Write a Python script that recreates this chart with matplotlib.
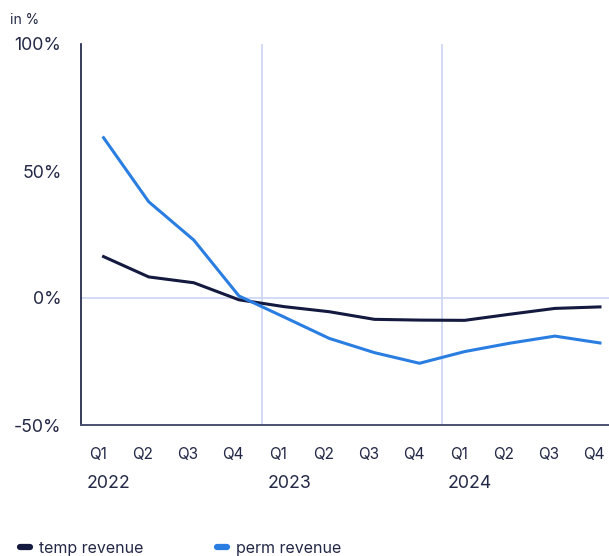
import matplotlib
matplotlib.use("Agg")
import matplotlib.pyplot as plt
from matplotlib.lines import Line2D
from matplotlib.transforms import blended_transform_factory, ScaledTranslation

plt.rcParams['font.family'] = ['Inter', 'DejaVu Sans']

# Quarterly year-over-year revenue change, in %
quarters = ["Q1", "Q2", "Q3", "Q4"] * 3
years = ["2022", "2023", "2024"]
temp_revenue = [16.3, 8.3, 6.0, -0.7, -3.4, -5.4, -8.4, -8.7, -8.8, -6.4, -4.1, -3.5]
perm_revenue = [63.1, 37.9, 22.8, 0.8, -7.5, -15.9, -21.5, -25.7, -21.1, -17.8, -15.0, -17.7]
y_ticks = [-50, 0, 50, 100]
y_tick_labels = ["-50%", "0%", "50%", "100%"]

NAVY = "#141a3f"
BLUE = "#2a7de1"
GRID = "#ccd4f2"
TEXT = "#232846"

fig = plt.figure(figsize=(6.09, 5.56), dpi=100)
ax = fig.add_axes([81 / 609, 1 - 425 / 556, 1 - 81 / 609, (425 - 44) / 556])

x = list(range(len(quarters)))
ax.plot(x, temp_revenue, color=NAVY, lw=2.2, solid_joinstyle="round", zorder=3)
ax.plot(x, perm_revenue, color=BLUE, lw=2.2, solid_joinstyle="round", zorder=3)

ax.set_xlim(-0.5, 11.2)
ax.set_ylim(-50, 100)

# reference lines: zero and year separators
ax.axhline(0, color=GRID, lw=1.2, zorder=1)
for xs in (3.5, 7.5):
    ax.axvline(xs, color=GRID, lw=1.2, zorder=1)

for side in ("top", "right"):
    ax.spines[side].set_visible(False)
ax.spines["left"].set_color(NAVY)
ax.spines["left"].set_linewidth(1.2)
ax.spines["bottom"].set_color("#4a5070")
ax.spines["bottom"].set_linewidth(1.4)

ax.set_yticks(y_ticks)
ax.set_yticklabels(y_tick_labels)
ax.set_xticks(x)
ax.set_xticklabels(quarters)
ax.tick_params(axis="y", length=0, pad=14, labelsize=12.8, labelcolor=TEXT)
ax.tick_params(axis="x", length=0, pad=16, labelsize=11, labelcolor=TEXT)

# quarter labels sit slightly left of their data points
shift = ScaledTranslation(-6 / 100, 0, fig.dpi_scale_trans)
for lbl in ax.get_xticklabels():
    lbl.set_transform(lbl.get_transform() + shift)

trans = blended_transform_factory(ax.transData, ax.transAxes)
for i, yr in enumerate(years):
    ax.text(i * 4 - 0.37, -0.153, yr, transform=trans, ha="left", va="center",
            fontsize=12.8, color=TEXT)

fig.text(10 / 609, 1 - 20 / 556, "in %", fontsize=10, color=TEXT, va="center", ha="left")

handles = [Line2D([], [], color=NAVY, lw=4.5, solid_capstyle="round"),
           Line2D([], [], color=BLUE, lw=4.5, solid_capstyle="round")]
fig.legend(handles, ["temp revenue", "perm revenue"], loc="center left",
           bbox_to_anchor=(20 / 609, 1 - 548 / 556), ncol=2, frameon=False,
           fontsize=11.5, handlelength=0.6, handletextpad=0.6, columnspacing=4.6,
           labelcolor=TEXT, borderaxespad=0, borderpad=0)

fig.savefig("out.png", dpi=100)
